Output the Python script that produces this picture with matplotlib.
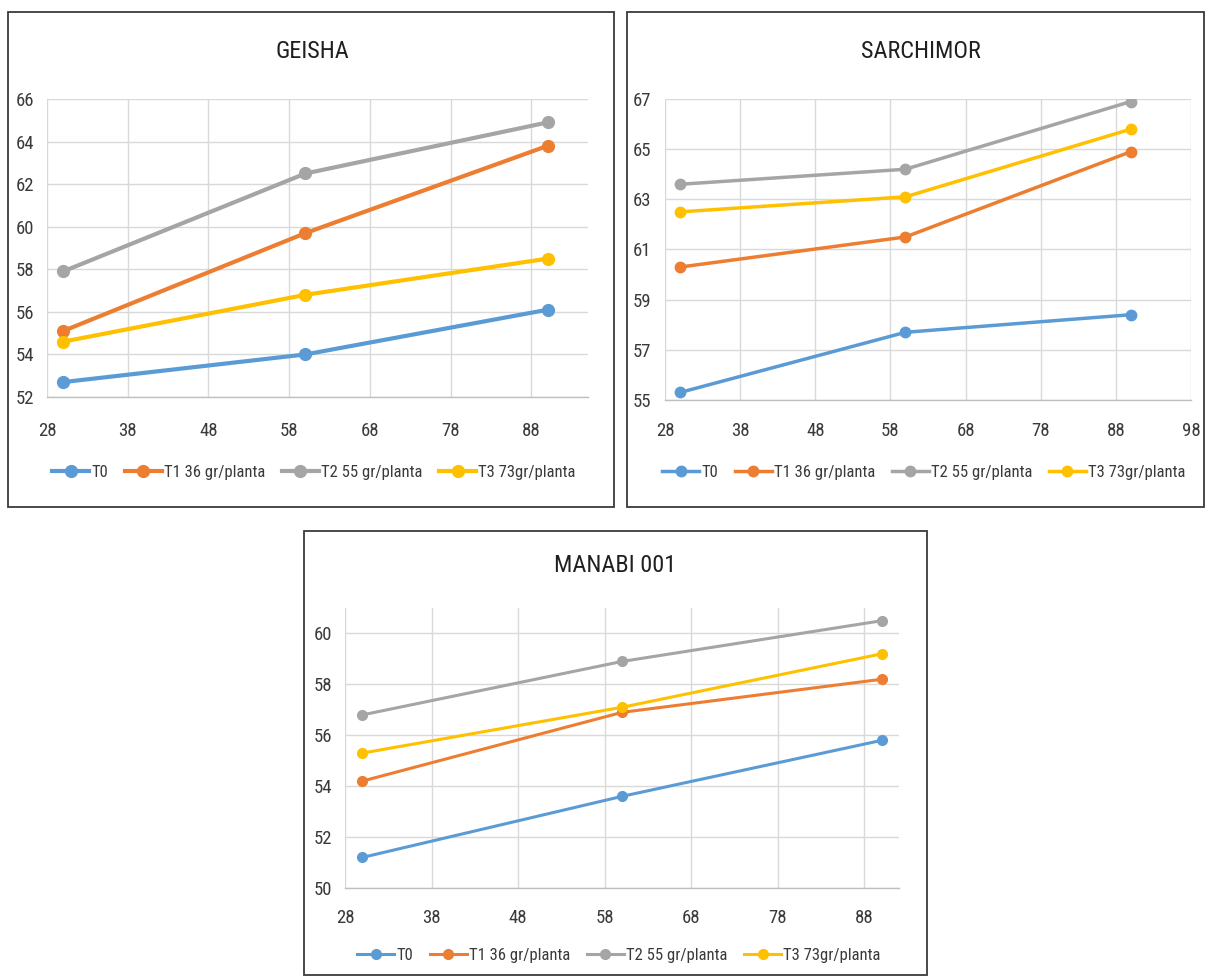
import matplotlib
matplotlib.use("Agg")
import matplotlib.pyplot as plt
from matplotlib import font_manager
from matplotlib.lines import Line2D
from matplotlib.patches import Rectangle

# ---- data -------------------------------------------------------------
days = [30, 60, 90]
series_labels = ["T0", "T1 36 gr/planta", "T2 55 gr/planta", "T3 73gr/planta"]
series_colors = ["#5B9BD5", "#ED7D31", "#A5A5A5", "#FFC000"]

geisha_t0 = [52.7, 54.0, 56.1]
geisha_t1 = [55.1, 59.7, 63.8]
geisha_t2 = [57.9, 62.5, 64.9]
geisha_t3 = [54.6, 56.8, 58.5]

sarchimor_t0 = [55.3, 57.7, 58.4]
sarchimor_t1 = [60.3, 61.5, 64.9]
sarchimor_t2 = [63.6, 64.2, 66.9]
sarchimor_t3 = [62.5, 63.1, 65.8]

manabi_t0 = [51.2, 53.6, 55.8]
manabi_t1 = [54.2, 56.9, 58.2]
manabi_t2 = [56.8, 58.9, 60.5]
manabi_t3 = [55.3, 57.1, 59.2]

x_ticks_geisha = [28, 38, 48, 58, 68, 78, 88]
x_ticks_sarchimor = [28, 38, 48, 58, 68, 78, 88, 98]
x_ticks_manabi = [28, 38, 48, 58, 68, 78, 88]
y_ticks_geisha = [52, 54, 56, 58, 60, 62, 64, 66]
y_ticks_sarchimor = [55, 57, 59, 61, 63, 65, 67]
y_ticks_manabi = [50, 52, 54, 56, 58, 60]

# ---- fonts ------------------------------------------------------------
available = {f.name for f in font_manager.fontManager.ttflist}
FONT = "DejaVu Sans"
for fam in ["Liberation Sans Narrow", "Roboto Condensed", "Liberation Sans"]:
    if fam in available:
        FONT = fam
        break
plt.rcParams["font.family"] = [FONT, "DejaVu Sans"]

W, H = 1206, 980
TEXT = "#3a3a3a"
GRID = "#D9D9D9"


def fig_rect(l, t, r, b):
    return [l / W, 1 - b / H, (r - l) / W, (b - t) / H]


fig = plt.figure(figsize=(W / 100, H / 100), dpi=100)
fig.patch.set_facecolor("white")


def draw_panel(box, axes_px, title, title_xy, series, xlim, xticks, ylim, yticks,
               legend_xy, lw, ms, xpad, ypad):
    # outer frame of the chart
    l, t, r, b = box
    fig.add_artist(Rectangle((l / W, 1 - b / H), (r - l) / W, (b - t) / H,
                             transform=fig.transFigure, fill=False,
                             edgecolor="#3a3a3a", linewidth=1.3))
    ax = fig.add_axes(fig_rect(*axes_px))
    for vals, color in zip(series, series_colors):
        ax.plot(days, vals, color=color, linewidth=lw, marker="o",
                markersize=ms, solid_capstyle="round", zorder=3)
    ax.set_xlim(*xlim)
    ax.set_ylim(*ylim)
    ax.set_xticks(xticks)
    ax.set_yticks(yticks)
    ax.grid(True, color=GRID, linewidth=1.0, zorder=0)
    ax.set_axisbelow(True)
    for side in ("top", "left", "right"):
        ax.spines[side].set_visible(False)
    ax.spines["bottom"].set_color("#BFBFBF")
    ax.spines["bottom"].set_linewidth(1.0)
    ax.tick_params(axis="x", length=0, pad=xpad, labelsize=13.5, colors=TEXT)
    ax.tick_params(axis="y", length=0, pad=ypad, labelsize=13.5, colors=TEXT)
    fig.text(title_xy[0] / W, 1 - title_xy[1] / H, title, ha="center",
             va="center", fontsize=17.5, color="#1f1f1f")
    handles = [Line2D([], [], color=c, linewidth=lw, marker="o", markersize=ms)
               for c in series_colors]
    fig.legend(handles, series_labels, loc="center",
               bbox_to_anchor=(legend_xy[0] / W, 1 - legend_xy[1] / H),
               ncol=4, frameon=False, handlelength=2.2, handletextpad=0.15,
               columnspacing=1.0, fontsize=12, labelcolor=TEXT, numpoints=1)
    return ax


draw_panel(box=(8, 12, 614, 507), axes_px=(47, 99, 588, 397),
           title="GEISHA", title_xy=(312, 52),
           series=[geisha_t0, geisha_t1, geisha_t2, geisha_t3],
           xlim=(28, 95), xticks=x_ticks_geisha, ylim=(52, 66),
           yticks=y_ticks_geisha, legend_xy=(314, 472),
           lw=3.0, ms=8.5, xpad=18, ypad=9)

draw_panel(box=(627, 12, 1204, 507), axes_px=(665, 99, 1191, 400),
           title="SARCHIMOR", title_xy=(921, 52),
           series=[sarchimor_t0, sarchimor_t1, sarchimor_t2, sarchimor_t3],
           xlim=(28, 98), xticks=x_ticks_sarchimor, ylim=(55, 67),
           yticks=y_ticks_sarchimor, legend_xy=(924, 472),
           lw=2.5, ms=7.5, xpad=16, ypad=10)

draw_panel(box=(304, 531, 927, 975), axes_px=(345, 608, 899, 888),
           title="MANABI 001", title_xy=(615, 565),
           series=[manabi_t0, manabi_t1, manabi_t2, manabi_t3],
           xlim=(28, 92), xticks=x_ticks_manabi, ylim=(50, 61),
           yticks=y_ticks_manabi, legend_xy=(619, 955),
           lw=2.2, ms=7, xpad=15, ypad=9)

fig.savefig("out.png", dpi=100, facecolor="white")
